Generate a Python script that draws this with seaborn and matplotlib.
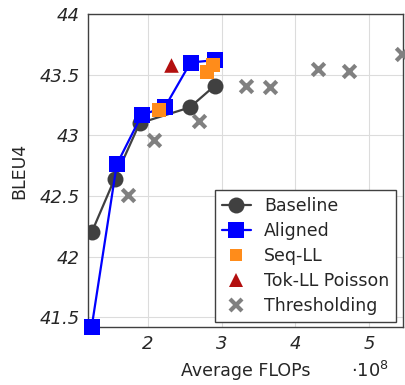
import numpy as np
import pandas as pd
import seaborn as sns
import matplotlib.pyplot as plt
from matplotlib.lines import Line2D

# values (x in units of 1e8 FLOPs)
base_x = [1.24, 1.55, 1.89, 2.57, 2.91]
base_y = [42.20, 42.64, 43.10, 43.23, 43.41]
align_x = [1.24, 1.58, 1.92, 2.23, 2.58, 2.91]
align_y = [41.42, 42.76, 43.17, 43.23, 43.60, 43.62]
seq_x = [2.15, 2.81, 2.88]
seq_y = [43.21, 43.52, 43.58]
tok_x = [2.31]
tok_y = [43.58]
thr_x = [1.73, 2.09, 2.70, 3.33, 3.66, 4.31, 4.73, 5.44]
thr_y = [42.51, 42.96, 43.12, 43.41, 43.40, 43.55, 43.53, 43.67]

c_base, c_align, c_seq, c_tok, c_thr = '#404040', '#0000ff', '#ff8c1a', '#b30f0f', '#808080'

sns.set_style('whitegrid', {'grid.color': '#dcdcdc', 'axes.edgecolor': '#404040'})
plt.rcParams['font.family'] = ['DejaVu Sans']
plt.rcParams['mathtext.fontset'] = 'dejavusans'

fig = plt.figure(figsize = (4.06, 3.85), dpi = 100)
ax = fig.add_axes([0.2167, 0.1506, 0.7759, 0.813])

# thresholding crosses
sns.scatterplot(x = thr_x, y = thr_y, marker = 'x', s = 80, linewidth = 3, color = c_thr,
                ax = ax, zorder = 3, clip_on = False)
sns.lineplot(x = base_x, y = base_y, sort = False, color = c_base, lw = 1.6,
             marker = 'o', markersize = 11.5, markeredgewidth = 0, ax = ax, zorder = 4)
sns.lineplot(x = align_x, y = align_y, sort = False, color = c_align, lw = 1.6,
             marker = 's', markersize = 11, markeredgewidth = 0, ax = ax, zorder = 5, clip_on = False)
sns.scatterplot(x = seq_x, y = seq_y, marker = 's', s = 90, color = c_seq, linewidth = 0, ax = ax, zorder = 6)
sns.scatterplot(x = tok_x, y = tok_y, marker = '^', s = 110, color = c_tok, linewidth = 0, ax = ax, zorder = 6)

ax.set_xlim(1.19, 5.46)
ax.set_ylim(41.42, 44)
ax.set_xticks([2, 3, 4, 5])
ax.set_yticks([41.5, 42, 42.5, 43, 43.5, 44])
ax.set_yticklabels(['41.5', '42', '42.5', '43', '43.5', '44'])
ax.tick_params(length = 0, labelsize = 13, pad = 6)
for lab in ax.get_xticklabels() + ax.get_yticklabels():
    lab.set_style('italic')
for sp in ax.spines.values():
    sp.set_linewidth(1.0)

ax.set_xlabel('Average FLOPs', size = 12.5, labelpad = 6)
ax.set_ylabel('BLEU4', size = 12.5, labelpad = 8)
fig.text(0.865, 0.02, r'$\cdot\mathit{10^{8}}$', size = 13)

handles = [
    Line2D([], [], color = c_base, lw = 1.6, marker = 'o', markersize = 11.5, markeredgewidth = 0),
    Line2D([], [], color = c_align, lw = 1.6, marker = 's', markersize = 11, markeredgewidth = 0),
    Line2D([], [], color = c_seq, lw = 0, marker = 's', markersize = 9, markeredgewidth = 0),
    Line2D([], [], color = c_tok, lw = 0, marker = '^', markersize = 10, markeredgewidth = 0),
    Line2D([], [], color = c_thr, lw = 0, marker = 'x', markersize = 9, markeredgewidth = 3),
]
labels = ['Baseline', 'Aligned', 'Seq-LL', 'Tok-LL Poisson', 'Thresholding']
leg = ax.legend(handles, labels, loc = 'lower right', bbox_to_anchor = (0.99, 0.005),
                fontsize = 12.5, frameon = True, fancybox = False, edgecolor = '#404040',
                framealpha = 1, handlelength = 1.7, handletextpad = 0.75,
                labelspacing = 0.4, borderpad = 0.4, borderaxespad = 0.2)
leg.get_frame().set_linewidth(1.0)

plt.savefig('out.png', dpi = 100)
